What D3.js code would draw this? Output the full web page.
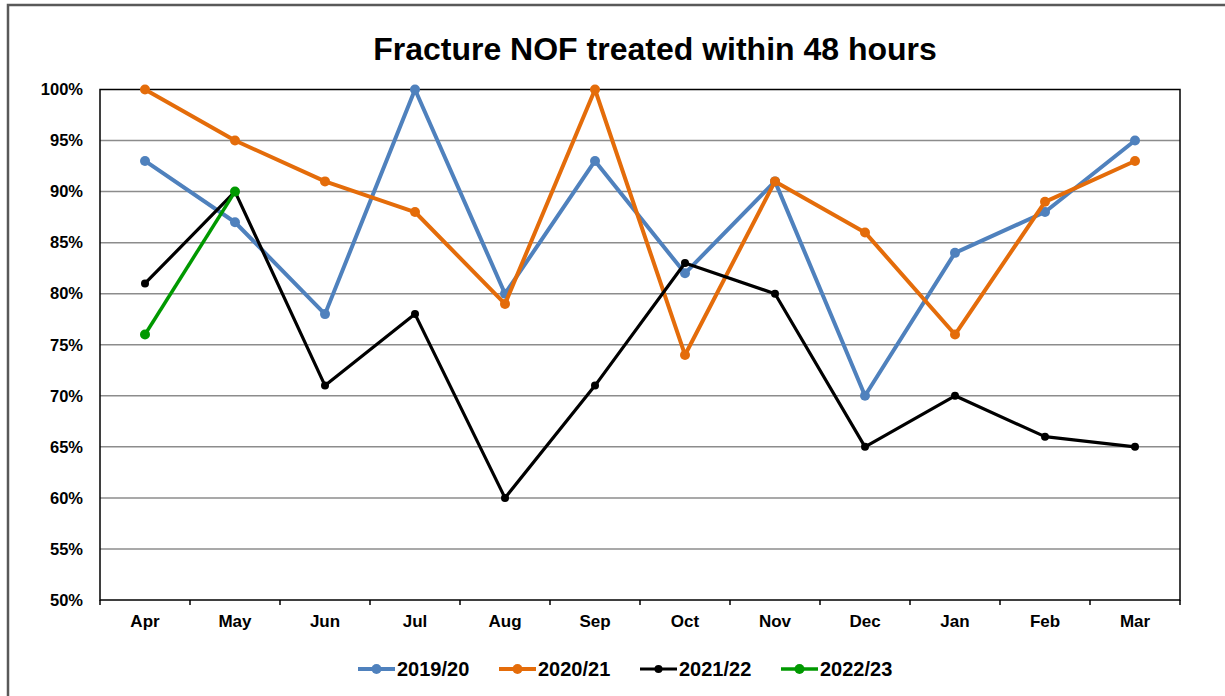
<!DOCTYPE html>
<html>
<head>
<meta charset="utf-8">
<script src="https://cdn.jsdelivr.net/npm/d3@7"></script>
<style>
  body { margin: 0; background: #fff; }
  text { font-family: "Liberation Sans", Arial, sans-serif; font-weight: bold; fill: #000; }
</style>
</head>
<body>
<div class="canvas"></div>
<script>
const months = ['Apr', 'May', 'Jun', 'Jul', 'Aug', 'Sep', 'Oct', 'Nov', 'Dec', 'Jan', 'Feb', 'Mar'];
const yTicks = [50, 55, 60, 65, 70, 75, 80, 85, 90, 95, 100];

const fy1920 = [93, 87, 78, 100, 80, 93, 82, 91, 70, 84, 88, 95];
const fy2021 = [100, 95, 91, 88, 79, 100, 74, 91, 86, 76, 89, 93];
const fy2122 = [81, 90, 71, 78, 60, 71, 83, 80, 65, 70, 66, 65];
const fy2223 = [76, 90];

const series = [
    { name: '2019/20', values: fy1920, color: '#4f81bd', width: 4, r: 5 },
    { name: '2020/21', values: fy2021, color: '#e46c0a', width: 4, r: 5 },
    { name: '2021/22', values: fy2122, color: '#000000', width: 3.2, r: 4 },
    { name: '2022/23', values: fy2223, color: '#009900', width: 3.5, r: 5 }
];

const dims = { width: 1225, height: 696 };
const plot = { left: 100, top: 89.5, right: 1180, bottom: 600 };

const svg = d3.select('.canvas')
    .append('svg')
    .attr('width', dims.width)
    .attr('height', dims.height);

// outer frame
svg.append('rect')
    .attr('x', 8).attr('y', 5)
    .attr('width', 1240).attr('height', 720)
    .attr('fill', '#fff')
    .attr('stroke', '#595959')
    .attr('stroke-width', 2.5);

svg.append('text')
    .attr('x', 655).attr('y', 60)
    .attr('text-anchor', 'middle')
    .attr('font-size', 32)
    .text('Fracture NOF treated within 48 hours');

const x = d3.scaleBand()
    .domain(months)
    .range([plot.left, plot.right]);

const y = d3.scaleLinear()
    .domain([50, 100])
    .range([plot.bottom, plot.top]);

// gridlines
svg.append('g')
    .selectAll('line')
    .data(yTicks.slice(1, -1))
    .enter().append('line')
        .attr('x1', plot.left).attr('x2', plot.right)
        .attr('y1', d => y(d)).attr('y2', d => y(d))
        .attr('stroke', '#8c8c8c')
        .attr('stroke-width', 1.5);

// plot border
svg.append('rect')
    .attr('x', plot.left).attr('y', plot.top)
    .attr('width', plot.right - plot.left)
    .attr('height', plot.bottom - plot.top)
    .attr('fill', 'none')
    .attr('stroke', '#000')
    .attr('stroke-width', 1.5);

// y labels
svg.append('g')
    .selectAll('text')
    .data(yTicks)
    .enter().append('text')
        .attr('x', 83)
        .attr('y', d => y(d))
        .attr('dy', '0.35em')
        .attr('text-anchor', 'end')
        .attr('font-size', 16.5)
        .text(d => d + '%');

// x ticks at category boundaries
const bounds = months.map(m => x(m)).concat([plot.right]);
svg.append('g')
    .selectAll('line')
    .data(bounds)
    .enter().append('line')
        .attr('x1', d => d).attr('x2', d => d)
        .attr('y1', plot.bottom).attr('y2', plot.bottom + 5)
        .attr('stroke', '#000')
        .attr('stroke-width', 1.5);

svg.append('g')
    .selectAll('text')
    .data(months)
    .enter().append('text')
        .attr('x', d => x(d) + x.bandwidth() / 2)
        .attr('y', 627)
        .attr('text-anchor', 'middle')
        .attr('font-size', 17)
        .text(d => d);

const cx = (d, i) => x(months[i]) + x.bandwidth() / 2;

const line = d3.line()
    .x(cx)
    .y(d => y(d));

series.forEach(s => {
    const g = svg.append('g');
    g.append('path')
        .attr('d', line(s.values))
        .attr('fill', 'none')
        .attr('stroke', s.color)
        .attr('stroke-width', s.width)
        .attr('stroke-linejoin', 'round');
    g.selectAll('circle')
        .data(s.values)
        .enter().append('circle')
            .attr('cx', cx)
            .attr('cy', d => y(d))
            .attr('r', s.r)
            .attr('fill', s.color);
});

// legend
const legendX = [358, 499, 640, 781];
const legend = svg.append('g')
    .selectAll('g')
    .data(series)
    .enter().append('g')
        .attr('transform', (d, i) => `translate(${legendX[i]}, 669)`);

legend.append('line')
    .attr('x1', 0).attr('x2', 37)
    .attr('stroke', d => d.color)
    .attr('stroke-width', d => d.width);

legend.append('circle')
    .attr('cx', 18.5)
    .attr('r', d => d.r)
    .attr('fill', d => d.color);

legend.append('text')
    .attr('x', 39)
    .attr('dy', '0.35em')
    .attr('font-size', 20)
    .text(d => d.name);
</script>
</body>
</html>
